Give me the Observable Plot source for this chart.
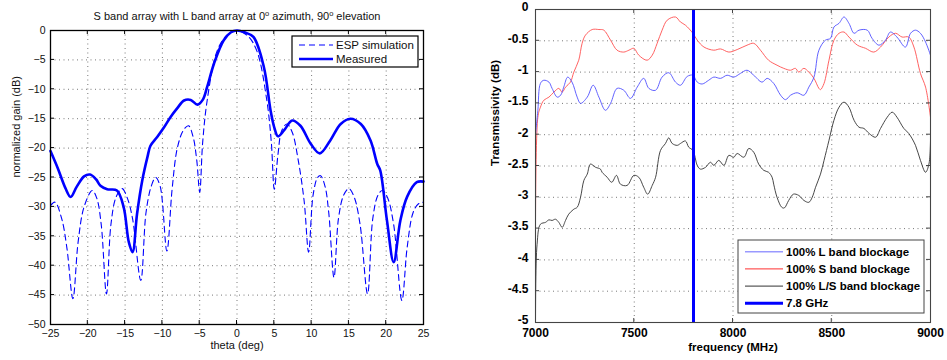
<!DOCTYPE html>
<html>
<head>
<meta charset="utf-8">
<script src="https://cdn.jsdelivr.net/npm/d3@7"></script>
<script src="https://cdn.jsdelivr.net/npm/@observablehq/plot@0.6"></script>
<style>
  html, body { margin: 0; padding: 0; background: #fff; }
  #wrap { display: flex; width: 947px; height: 360px; }
</style>
</head>
<body>
<div id="wrap"></div>
<script>
// ---------- Left panel data ----------
const leftTitle = ["S band array with L band array at 0", "o", " azimuth, 90", "o", " elevation"];
const thetaTicks = [-25, -20, -15, -10, -5, 0, 5, 10, 15, 20, 25];
const gainTicks = [-50, -45, -40, -35, -30, -25, -20, -15, -10, -5, 0];

const thetaMeas = [-25,-24,-23,-22.3,-21.5,-20.5,-19.7,-18.9,-18.3,-17.4,-16.1,-15.2,-14.5,-14,-13.4,-12.7,-12,-11.6,-10.7,-9.8,-8.9,-8,-7.1,-6.2,-5.3,-4.6,-4,-3.1,-1.8,-0.8,0,1,2.2,3.6,4.5,5.0,5.5,6.3,7.4,8.5,9.9,11.1,12.5,13.9,15.2,16.6,17.9,18.8,19.2,20.1,21,21.9,22.8,24.1,25];
const gainMeas  = [-20.5,-23.5,-26.8,-28.3,-26.6,-24.8,-24.5,-25.3,-26.4,-27,-27.2,-30,-36,-37.7,-31.2,-25.5,-21.5,-19.6,-18.1,-16.5,-14.7,-13.2,-11.9,-11.8,-12.6,-11.8,-9.6,-5.7,-1.7,-0.3,0,-0.3,-1.1,-6.2,-13.6,-16.5,-18,-17,-15.3,-16.2,-19.3,-20.9,-18.7,-15.9,-15,-15.9,-18.7,-22.7,-23.8,-32.3,-39.4,-32.3,-28.3,-25.8,-25.7];

const thetaESP = [-25,-24.4,-23.5,-22.8,-22.0,-21.3,-20.5,-19.4,-18.8,-18.2,-17.5,-16.9,-16.2,-15.4,-14.7,-14.0,-12.9,-12.2,-11.5,-10.9,-10.3,-9.4,-8.7,-8.0,-7.2,-6.5,-5.9,-5.4,-5.0,-4.6,-4.0,-2.7,-1.5,0,1.5,2.7,4.0,4.6,5.0,5.5,6.0,6.7,7.4,8.2,9.0,9.6,10.2,10.8,11.2,11.8,12.3,13.0,13.6,14.3,15.0,15.7,16.5,17.5,18.2,18.9,19.5,20.2,21.0,22.1,22.8,23.6,24.3,25];
const gainESP  = [-29.8,-29.2,-32,-37,-45.6,-36,-30,-27.2,-28.5,-33,-44.8,-33,-28.3,-26.9,-28.5,-32,-42.5,-31,-26.5,-25,-26.5,-37.5,-27,-20,-17,-16.2,-18,-22,-27.5,-19,-11.9,-3.6,-1,0,-1,-3.6,-11.9,-19,-27,-21,-17,-15.9,-17.3,-22,-29,-37.7,-28,-25,-24.7,-26.5,-31,-42,-32,-28,-26.9,-28.3,-33,-44.8,-32,-28,-27.2,-28.5,-33,-45.9,-37,-31,-29.5,-29.2];

const leftLegend = ["ESP simulation", "Measured"];

// ---------- Right panel data ----------
const freqTicks = [7000, 7500, 8000, 8500, 9000];
const transTicks = [-5, -4.5, -4, -3.5, -3, -2.5, -2, -1.5, -1, -0.5, 0];

const freqL = [7000,7012,7025,7042,7068,7084,7110,7127,7143,7163,7185,7211,7228,7262,7292,7321,7354,7380,7413,7447,7481,7515,7548,7574,7608,7641,7675,7709,7734,7768,7797,7819,7844,7877,7903,7937,7970,8004,8038,8071,8105,8147,8173,8206,8241,8266,8291,8325,8359,8384,8410,8435,8468,8494,8511,8537,8562,8587,8613,8638,8680,8704,8739,8772,8797,8830,8873,8899,8924,8949,8975,9000];
const dbL   = [-2.0,-1.61,-1.18,-1.13,-1.16,-1.26,-1.40,-1.37,-1.24,-1.08,-1.16,-1.40,-1.50,-1.40,-1.21,-1.40,-1.61,-1.50,-1.26,-1.29,-1.42,-1.24,-1.10,-1.26,-1.29,-1.08,-1.01,-1.16,-1.21,-1.07,-1.05,-1.16,-1.19,-1.13,-1.08,-1.10,-1.05,-1.08,-1.02,-0.97,-1.05,-1.16,-1.10,-1.18,-1.37,-1.44,-1.37,-1.33,-1.37,-1.24,-1.08,-0.65,-0.49,-0.46,-0.28,-0.22,-0.12,-0.22,-0.38,-0.33,-0.33,-0.46,-0.57,-0.49,-0.36,-0.44,-0.60,-0.38,-0.33,-0.38,-0.52,-0.73];

const freqS = [7000,7012,7025,7042,7068,7093,7118,7135,7152,7177,7194,7219,7236,7253,7287,7321,7346,7380,7413,7447,7473,7498,7523,7565,7591,7616,7641,7667,7709,7734,7759,7797,7819,7853,7903,7937,7979,8021,8071,8105,8139,8180,8223,8257,8291,8316,8333,8359,8384,8410,8435,8443,8461,8486,8511,8537,8562,8587,8630,8671,8713,8747,8789,8823,8856,8890,8916,8949,8975,9000];
const dbS   = [-5.0,-1.72,-1.56,-1.45,-1.40,-1.32,-1.26,-1.32,-1.24,-1.16,-1.00,-0.81,-0.54,-0.41,-0.32,-0.32,-0.33,-0.49,-0.65,-0.68,-0.65,-0.62,-0.73,-0.81,-0.73,-0.54,-0.33,-0.17,-0.12,-0.20,-0.25,-0.38,-0.49,-0.60,-0.65,-0.63,-0.68,-0.64,-0.57,-0.54,-0.65,-0.81,-0.89,-0.94,-0.97,-0.94,-1.00,-0.94,-1.00,-1.10,-1.26,-1.28,-1.18,-0.81,-0.49,-0.38,-0.36,-0.44,-0.57,-0.62,-0.68,-0.60,-0.44,-0.38,-0.44,-0.44,-0.60,-1.02,-1.24,-1.72];

const freqLS = [7000,7008,7025,7051,7068,7084,7101,7118,7135,7152,7168,7194,7211,7228,7245,7262,7278,7304,7329,7337,7363,7386,7410,7430,7464,7498,7523,7548,7568,7591,7608,7633,7658,7675,7692,7718,7734,7759,7776,7797,7819,7835,7861,7886,7903,7928,7954,7979,8004,8021,8055,8080,8105,8130,8156,8180,8198,8206,8223,8247,8260,8282,8306,8333,8359,8384,8401,8418,8443,8461,8486,8511,8537,8562,8587,8613,8638,8663,8689,8722,8747,8781,8806,8830,8865,8890,8924,8949,8975,8992,9000];
const dbLS   = [-5.0,-3.75,-3.43,-3.40,-3.36,-3.37,-3.35,-3.40,-3.48,-3.37,-3.27,-3.19,-3.16,-3.00,-2.73,-2.63,-2.47,-2.52,-2.55,-2.60,-2.68,-2.76,-2.65,-2.79,-2.81,-2.65,-2.68,-2.84,-2.95,-2.81,-2.68,-2.25,-2.14,-2.05,-2.14,-2.17,-2.14,-2.10,-2.20,-2.25,-2.49,-2.55,-2.52,-2.44,-2.49,-2.41,-2.49,-2.33,-2.36,-2.30,-2.36,-2.22,-2.28,-2.47,-2.57,-2.60,-2.68,-2.79,-3.00,-3.16,-3.17,-3.05,-2.95,-2.97,-3.05,-3.08,-3.00,-2.84,-2.63,-2.41,-2.09,-1.77,-1.56,-1.48,-1.56,-1.77,-1.88,-1.90,-1.98,-2.04,-1.90,-1.72,-1.64,-1.72,-1.90,-1.98,-2.17,-2.41,-2.60,-2.47,-2.09];

const markerFreq = [7800];
const rightLegend = ["100% L band blockage", "100% S band blockage", "100% L/S band blockage", "7.8 GHz"];

// ---------- helpers ----------
const minusFmt = d => (d < 0 ? "\u2212" + Math.abs(d) : String(d));
const hyphenFmt = d => String(d);

function innerTicks(svg, plot, xs, ys, len, color) {
  const X = plot.scale("x"), Y = plot.scale("y");
  const [x0, x1] = X.range, [y0, y1] = Y.range; // y0 bottom, y1 top
  const g = svg.append("g").attr("stroke", color).attr("stroke-width", 1);
  xs.forEach(v => {
    const px = X.apply(v);
    g.append("line").attr("x1", px).attr("x2", px).attr("y1", y0).attr("y2", y0 - len);
    g.append("line").attr("x1", px).attr("x2", px).attr("y1", y1).attr("y2", y1 + len);
  });
  ys.forEach(v => {
    const py = Y.apply(v);
    g.append("line").attr("y1", py).attr("y2", py).attr("x1", x0).attr("x2", x0 + len);
    g.append("line").attr("y1", py).attr("y2", py).attr("x1", x1).attr("x2", x1 - len);
  });
}

// ---------- Left plot ----------
const leftFont = "'Liberation Sans', Arial, Helvetica, sans-serif";
const left = Plot.plot({
  width: 470, height: 360,
  marginLeft: 50, marginRight: 47, marginTop: 30, marginBottom: 36,
  style: { fontFamily: leftFont, fontSize: "10.5px", background: "white", color: "#111", overflow: "visible" },
  x: { domain: [-25, 25], label: null },
  y: { domain: [-50, 0], label: null },
  marks: [
    Plot.ruleX(thetaTicks.slice(1, -1), { stroke: "#555", strokeWidth: 0.8, strokeDasharray: "1,3.5" }),
    Plot.ruleY(gainTicks.slice(1, -1), { stroke: "#555", strokeWidth: 0.8, strokeDasharray: "1,3.5" }),
    Plot.axisX({ ticks: thetaTicks, tickFormat: minusFmt, tickSize: 0, tickPadding: 5, label: null }),
    Plot.axisY({ ticks: gainTicks, tickFormat: minusFmt, tickSize: 0, tickPadding: 5, label: null }),
    Plot.line(thetaESP, { x: thetaESP, y: gainESP, stroke: "#0000ff", strokeWidth: 1.1, strokeDasharray: "6,4", curve: "catmull-rom" }),
    Plot.line(thetaMeas, { x: thetaMeas, y: gainMeas, stroke: "#0000ff", strokeWidth: 2.6, curve: "catmull-rom" }),
    Plot.frame({ stroke: "#000", strokeWidth: 1.3 }),
    Plot.text(["theta (deg)"], { frameAnchor: "bottom", dy: 24, text: d => d, fontSize: 11, fill: "#111" }),
    Plot.text(["normalized gain (dB)"], { frameAnchor: "left", dx: -34, rotate: -90, text: d => d, fontSize: 11, fill: "#111" })
  ]
});
document.getElementById("wrap").appendChild(left);
{
  const svg = d3.select(left);
  innerTicks(svg, left, thetaTicks.slice(1, -1), gainTicks.slice(1, -1), 4, "#000");
  // Title with superscripts
  const t = svg.append("text").attr("x", 237).attr("y", 20).attr("text-anchor", "middle")
    .attr("font-family", leftFont).attr("font-size", 11).attr("fill", "#111");
  leftTitle.forEach((s, i) => {
    const sp = t.append("tspan").text(s);
    if (s === "o") sp.attr("font-size", 7.5).attr("dy", -4);
    else if (i > 0) sp.attr("dy", 4);
  });
  // Legend
  const lg = svg.append("g").attr("text-anchor", "start");
  lg.append("rect").attr("x", 292).attr("y", 36).attr("width", 126).attr("height", 31)
    .attr("fill", "white").attr("stroke", "#000").attr("stroke-width", 1.2);
  const styles = [{ w: 1.1, dash: "6,4" }, { w: 2.6, dash: null }];
  leftLegend.forEach((s, i) => {
    const y = 45 + i * 14;
    const ln = lg.append("line").attr("x1", 299).attr("x2", 333).attr("y1", y).attr("y2", y)
      .attr("stroke", "#0000ff").attr("stroke-width", styles[i].w);
    if (styles[i].dash) ln.attr("stroke-dasharray", styles[i].dash);
    lg.append("text").attr("x", 336).attr("y", y).attr("dy", "0.35em").attr("text-anchor", "start")
      .attr("font-family", leftFont).attr("font-size", 11.5).attr("fill", "#111").text(s);
  });
}

// ---------- Right plot ----------
const rightFont = "'Liberation Sans', Arial, Helvetica, sans-serif";
const right = Plot.plot({
  width: 477, height: 360,
  marginLeft: 65, marginRight: 17, marginTop: 9, marginBottom: 38,
  style: { fontFamily: rightFont, fontSize: "12px", fontWeight: "bold", background: "white", color: "#000", overflow: "visible" },
  x: { domain: [7000, 9000], label: null },
  y: { domain: [-5, 0], label: null },
  marks: [
    Plot.ruleX(freqTicks.slice(1, -1), { stroke: "#555", strokeWidth: 0.8, strokeDasharray: "1,3.5" }),
    Plot.ruleY(transTicks.slice(1, -1), { stroke: "#555", strokeWidth: 0.8, strokeDasharray: "1,3.5" }),
    Plot.axisX({ ticks: freqTicks, tickFormat: hyphenFmt, tickSize: 0, tickPadding: 6, label: null }),
    Plot.axisY({ ticks: transTicks, tickFormat: hyphenFmt, tickSize: 0, tickPadding: 7, dy: -2, label: null }),
    Plot.line(freqLS, { x: freqLS, y: dbLS, stroke: "#333333", strokeWidth: 0.9, curve: "catmull-rom", clip: true }),
    Plot.line(freqS, { x: freqS, y: dbS, stroke: "#ff5050", strokeWidth: 0.9, curve: "catmull-rom", clip: true }),
    Plot.line(freqL, { x: freqL, y: dbL, stroke: "#5050ff", strokeWidth: 0.9, curve: "catmull-rom", clip: true }),
    Plot.ruleX(markerFreq, { stroke: "#0000ff", strokeWidth: 3 }),
    Plot.frame({ stroke: "#444", strokeWidth: 1.1 }),
    Plot.text(["frequency (MHz)"], { frameAnchor: "bottom", dy: 28, text: d => d, fontSize: 11.5, fontWeight: "bold", fill: "#000" }),
    Plot.text(["Transmissivity (dB)"], { frameAnchor: "left", dx: -40, rotate: -90, text: d => d, fontSize: 11.5, fontWeight: "bold", fill: "#000" })
  ]
});
document.getElementById("wrap").appendChild(right);
{
  const svg = d3.select(right);
  innerTicks(svg, right, freqTicks.slice(1, -1), transTicks.slice(1, -1), 4, "#444");
  const lg = svg.append("g").attr("text-anchor", "start");
  lg.append("rect").attr("x", 268).attr("y", 240).attr("width", 186).attr("height", 73)
    .attr("fill", "white").attr("stroke", "#444").attr("stroke-width", 1);
  const cols = [{ c: "#9999ff", w: 1.5 }, { c: "#ff3030", w: 1 }, { c: "#333333", w: 1 }, { c: "#0000ff", w: 3 }];
  rightLegend.forEach((s, i) => {
    const y = 251.7 + i * 17.2;
    lg.append("line").attr("x1", 275).attr("x2", 313).attr("y1", y).attr("y2", y)
      .attr("stroke", cols[i].c).attr("stroke-width", cols[i].w);
    lg.append("text").attr("x", 316).attr("y", y).attr("dy", "0.35em").attr("text-anchor", "start")
      .attr("font-family", rightFont).attr("font-weight", "bold").attr("font-size", 11.5)
      .attr("fill", "#000").text(s);
  });
}
</script>
</body>
</html>
